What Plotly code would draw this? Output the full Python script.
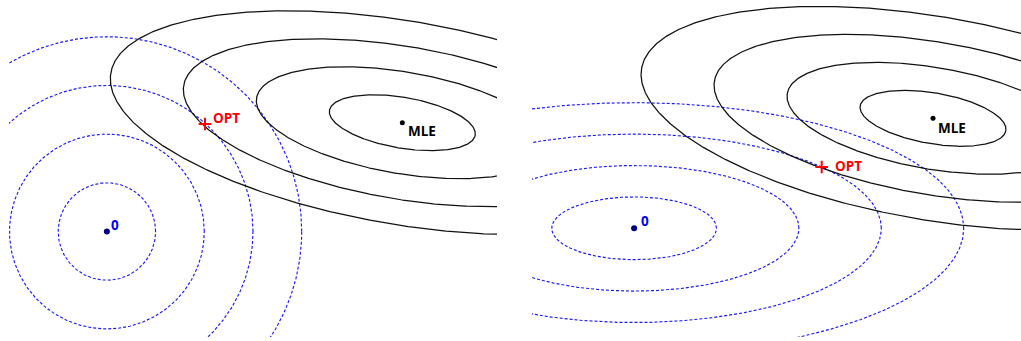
import numpy as np
import plotly.graph_objects as go

# Contour levels shared by both panels
levels = [1, 2, 3, 4]

# Likelihood ellipse shape (semi-axes and tilt in degrees)
lik_axes = [1.518, 0.522]
lik_angle = -9.7

# Left panel: circular (ridge) penalty
left_mle = [6.066, 2.234]
left_opt = [2.014, 2.207]
left_pen_axes = [1.0, 1.0]

# Right panel: elliptical (generalised) penalty
right_mle = [6.138, 2.259]
right_opt = [3.852, 1.259]
right_pen_axes = [1.692, 0.645]

origin = [0.0, 0.0]

t = np.linspace(0, 2 * np.pi, 721)


def ellipse(center, axes, angle_deg, k):
    a, b = axes[0] * k, axes[1] * k
    th = np.deg2rad(angle_deg)
    x = a * np.cos(t)
    y = b * np.sin(t)
    xr = center[0] + x * np.cos(th) - y * np.sin(th)
    yr = center[1] + x * np.sin(th) + y * np.cos(th)
    return xr, yr


fig = go.Figure()


def add_panel(xa, ya, mle, opt, pen_axes):
    for k in levels:
        x, y = ellipse(origin, pen_axes, 0, k)
        fig.add_trace(go.Scatter(x=x, y=y, mode="lines", xaxis=xa, yaxis=ya,
                                 line=dict(color="#1a1aff", width=1.15, dash="3px,2px"),
                                 hoverinfo="skip", showlegend=False))
    for k in levels:
        x, y = ellipse(mle, lik_axes, lik_angle, k)
        fig.add_trace(go.Scatter(x=x, y=y, mode="lines", xaxis=xa, yaxis=ya,
                                 line=dict(color="#111111", width=1.25),
                                 hoverinfo="skip", showlegend=False))
    fig.add_trace(go.Scatter(x=[origin[0]], y=[origin[1]], mode="markers", xaxis=xa, yaxis=ya,
                             marker=dict(color="#000080", size=6), showlegend=False))
    fig.add_trace(go.Scatter(x=[mle[0]], y=[mle[1]], mode="markers", xaxis=xa, yaxis=ya,
                             marker=dict(color="black", size=5), showlegend=False))
    fig.add_trace(go.Scatter(x=[opt[0]], y=[opt[1]], mode="markers", xaxis=xa, yaxis=ya,
                             marker=dict(symbol="cross-thin", size=9, color="red",
                                         line=dict(color="red", width=2)),
                             showlegend=False))


add_panel("x", "y", left_mle, left_opt, left_pen_axes)
add_panel("x2", "y2", right_mle, right_opt, right_pen_axes)

font = "Open Sans"


def label(xa, ya, pt, text, color, xs, ys):
    fig.add_annotation(x=pt[0], y=pt[1], xref=xa, yref=ya, text="<b>%s</b>" % text,
                       showarrow=False, xanchor="left", yanchor="middle",
                       xshift=xs, yshift=ys,
                       font=dict(family=font, size=13.5, color=color))


label("x", "y", origin, "0", "blue", 2, 7)
label("x", "y", left_mle, "MLE", "black", 4, -7.8)
label("x", "y", left_opt, "OPT", "red", 6.3, 5.7)
label("x2", "y2", origin, "0", "blue", 4.7, 7.1)
label("x2", "y2", right_mle, "MLE", "black", 2.6, -9.7)
label("x2", "y2", right_opt, "OPT", "red", 11, 0.6)

W, H = 1021, 341
ax_common = dict(visible=False, showgrid=False, zeroline=False, fixedrange=True)
fig.update_layout(
    width=W, height=H,
    margin=dict(l=0, r=0, t=0, b=0),
    paper_bgcolor="white", plot_bgcolor="white",
    xaxis=dict(domain=[9 / W, 497 / W], range=[-2.010, 8.010], **ax_common),
    yaxis=dict(domain=[4 / H, 1], range=[-2.166, 4.754], **ax_common),
    xaxis2=dict(domain=[532 / W, 1.0], range=[-2.097, 7.945], **ax_common),
    yaxis2=dict(domain=[4 / H, 1], range=[-2.232, 4.688], **ax_common),
)

fig.write_html("out.html")
